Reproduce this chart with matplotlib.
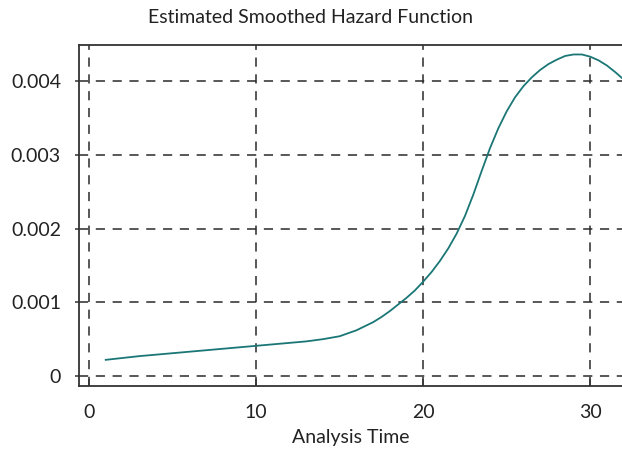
import numpy as np
import matplotlib
matplotlib.use("Agg")
import matplotlib.pyplot as plt

# hazard estimate
time_pts = [1, 3, 5, 7, 9, 10, 11, 12, 13, 14, 15, 16, 17, 17.5, 18, 18.5, 19, 19.5,
            20, 20.5, 21, 21.5, 22, 22.5, 23, 23.5, 24, 24.5, 25, 25.5, 26, 26.5,
            27, 27.5, 28, 28.5, 29, 29.5, 30, 30.5, 31, 31.5, 32]
hazard = [0.00022, 0.00027, 0.00031, 0.00035, 0.00039, 0.00041, 0.00043, 0.00045,
          0.00047, 0.00050, 0.00054, 0.00062, 0.00073, 0.00080, 0.00088, 0.00097,
          0.00106, 0.00116, 0.00128, 0.00141, 0.00156, 0.00173, 0.00193, 0.00217,
          0.00246, 0.00278, 0.00309, 0.00336, 0.00359, 0.00378, 0.00393, 0.00405,
          0.00415, 0.00423, 0.00429, 0.00434, 0.00436, 0.00436, 0.00433, 0.00428,
          0.00421, 0.00412, 0.00402]
xticks = [0, 10, 20, 30]
yticks = [0, 0.001, 0.002, 0.003, 0.004]
ytick_labels = ["0", "0.001", "0.002", "0.003", "0.004"]

fig = plt.figure(figsize=(6.22, 4.58), dpi=100)
ax = fig.add_axes([0.127, 0.157, 0.873, 0.745])

ax.plot(time_pts, hazard, color="#1b7676", lw=1.3, zorder=3)

ax.set_xlim(-0.6, 31.9)
ax.set_ylim(-0.000136, 0.00449)
ax.set_xticks(xticks)
ax.set_yticks(yticks)
ax.set_yticklabels(ytick_labels)
ax.grid(True, color="#2a2a2a", linestyle=(0, (6, 5)), lw=1.1)

for s in ["left", "top", "bottom"]:
    ax.spines[s].set_color("#333333")
    ax.spines[s].set_linewidth(1.3)
ax.spines["right"].set_visible(False)

ax.tick_params(axis="x", direction="in", length=5, width=1.1, color="#333333",
               labelsize=14, pad=13, labelcolor="#222222")
ax.tick_params(axis="y", direction="out", length=3, width=1.1, color="#333333",
               labelsize=14, pad=10, labelcolor="#222222")
for lab in ax.get_xticklabels() + ax.get_yticklabels():
    lab.set_family("Lato")

ax.set_xlabel("Analysis Time", fontsize=14, family="Lato", labelpad=6,
              color="#222222")
fig.text(0.5, 0.962, "Estimated Smoothed Hazard Function", ha="center",
         va="center", fontsize=14, family="Lato", color="#222222")

fig.savefig("out.png", dpi=100)
